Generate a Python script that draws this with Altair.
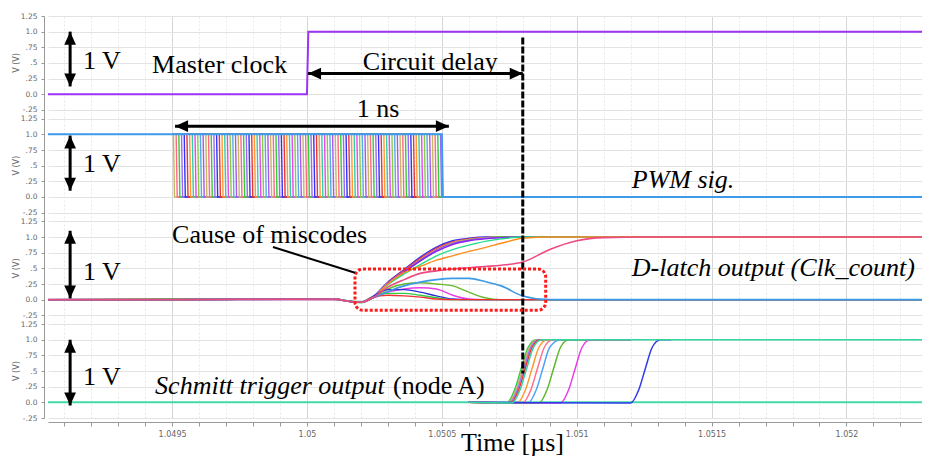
import altair as alt
import pandas as pd

# ---------------- axes / layout values ----------------
X_DOMAIN = [1.04904, 1.05228]
Y_DOMAIN = [-0.25, 6.17]
X_MAJOR = [1.0495, 1.05, 1.0505, 1.051, 1.0515, 1.052]
X_TICKS = [round(1.0491 + 0.0001 * i, 4) for i in range(32)]
Y_LEVELS = [-0.25, 0.0, 0.25, 0.5, 0.75, 1.0, 1.25]
Y_LABELS = ["-.25", "0.0", ".25", ".5", ".75", "1.0", "1.25"]
PANELS = ["clk", "pwm", "dl", "st"]
PITCH = 1.64
PANEL_OFFSET = {"clk": 3 * PITCH, "pwm": 2 * PITCH, "dl": PITCH, "st": 0.0}

PALETTE = ["#C8B560", "#FF6688", "#33CC33", "#9966FF", "#3333EE", "#EE3333",
           "#FF9933", "#33CCAA", "#EE44EE", "#88CC44", "#55A8F0", "#AA55EE"]

# ---------------- Master clock ----------------
CLK_T = [1.04904, 1.05, 1.050005, 1.05228]
CLK_V = [0, 0, 1, 1]

# ---------------- PWM signal ----------------
PWM_DROP_PS = [5, 15, 25, 35, 45, 55, 65, 75, 85, 95,
               105, 115, 125, 135, 145, 155, 165, 175, 185, 195,
               205, 215, 225, 235, 245, 255, 265, 275, 285, 295,
               305, 315, 325, 335, 345, 355, 365, 375, 385, 395,
               405, 415, 425, 435, 445, 455, 465, 475, 485, 495,
               505, 515, 525, 535, 545, 555, 565, 575, 585, 595,
               605, 615, 625, 635, 645, 655, 665, 675, 685, 695,
               705, 715, 725, 735, 745, 755, 765, 775, 785, 795,
               805, 815, 825, 835, 845, 855, 865, 875, 885, 895,
               905, 915, 925, 935, 945, 955, 965, 975, 985, 995]
PWM_START = 1.0495
PWM_END = 1.0505
PWM_FALL = 0.000004
PWM_MAIN_T = [1.04904, 1.0505, 1.050504, 1.05228]
PWM_MAIN_V = [1, 1, 0, 0]

# ---------------- D-latch output ----------------
DL_T = [1.04904, 1.0495, 1.0501, 1.05016, 1.0502, 1.05024, 1.0503, 1.05036,
        1.05042, 1.05048, 1.05054, 1.0506, 1.05066, 1.05072, 1.0508, 1.0509,
        1.051, 1.0511, 1.05125, 1.0514, 1.05228]
DL_TRACES = {
    "fast1":  [0, 0, 0.01, -0.03, -0.04, 0.03, 0.28, 0.48, 0.68, 0.84, 0.94, 0.98, 1.0, 1.0, 1.0, 1.0, 1.0, 1.0, 1.0, 1.0, 1.0],
    "fast2":  [0, 0.01, 0.0, -0.03, -0.04, 0.02, 0.27, 0.47, 0.66, 0.82, 0.92, 0.97, 0.99, 1.0, 1.0, 1.0, 1.0, 1.0, 1.0, 1.0, 1.0],
    "fast3":  [0, 0.0, 0.01, -0.02, -0.04, 0.02, 0.26, 0.45, 0.64, 0.80, 0.91, 0.96, 0.99, 1.0, 1.0, 1.0, 1.0, 1.0, 1.0, 1.0, 1.0],
    "fast4":  [0, 0.01, 0.01, -0.03, -0.05, 0.02, 0.25, 0.44, 0.62, 0.78, 0.89, 0.95, 0.98, 1.0, 1.0, 1.0, 1.0, 1.0, 1.0, 1.0, 1.0],
    "fast5":  [0, 0.0, 0.0, -0.03, -0.04, 0.02, 0.26, 0.45, 0.63, 0.79, 0.90, 0.95, 0.98, 0.99, 1.0, 1.0, 1.0, 1.0, 1.0, 1.0, 1.0],
    "purple": [0, 0.0, 0.01, -0.03, -0.04, 0.02, 0.25, 0.44, 0.62, 0.77, 0.88, 0.94, 0.97, 0.99, 1.0, 1.0, 1.0, 1.0, 1.0, 1.0, 1.0],
    "teal":   [0, 0.0, 0.01, -0.02, -0.04, 0.02, 0.24, 0.41, 0.56, 0.70, 0.80, 0.87, 0.93, 0.97, 1.0, 1.0, 1.0, 1.0, 1.0, 1.0, 1.0],
    "orange": [0, 0.0, 0.01, -0.03, -0.04, 0.02, 0.25, 0.43, 0.53, 0.63, 0.70, 0.77, 0.83, 0.90, 0.98, 1.0, 1.0, 1.0, 1.0, 1.0, 1.0],
    "ygreen": [0, 0.0, 0.01, -0.03, -0.04, 0.02, 0.17, 0.25, 0.27, 0.25, 0.22, 0.12, 0.03, 0.0, 0.0, 0.0, 0.0, 0.0, 0.0, 0.0, 0.0],
    "magenta":[0, 0.0, 0.01, -0.03, -0.04, 0.02, 0.12, 0.17, 0.19, 0.17, 0.07, 0.01, 0.0, 0.0, 0.0, 0.0, 0.0, 0.0, 0.0, 0.0, 0.0],
    "dblue":  [0, 0.0, 0.01, -0.03, -0.04, 0.04, 0.16, 0.16, 0.12, 0.06, 0.01, 0.0, 0.0, 0.0, 0.0, 0.0, 0.0, 0.0, 0.0, 0.0, 0.0],
    "green2": [0, 0.0, 0.01, -0.03, -0.04, 0.03, 0.10, 0.10, 0.07, 0.03, 0.0, 0.0, 0.0, 0.0, 0.0, 0.0, 0.0, 0.0, 0.0, 0.0, 0.0],
    "red2":   [0, 0.0, 0.01, -0.03, -0.04, 0.03, 0.07, 0.06, 0.04, 0.01, 0.0, 0.0, 0.0, 0.0, 0.0, 0.0, 0.0, 0.0, 0.0, 0.0, 0.0],
}
DL_BLUE = [0, 0.0, 0.01, -0.03, -0.04, 0.02, 0.13, 0.22, 0.28, 0.32, 0.34, 0.34, 0.29, 0.22, 0.06, 0.0, 0.0, 0.0, 0.0, 0.0, 0.0]
DL_PINK = [0, 0.0, 0.01, -0.03, -0.04, 0.02, 0.20, 0.32, 0.42, 0.46, 0.49, 0.51, 0.53, 0.55, 0.60, 0.80, 0.94, 0.99, 1.0, 1.0, 1.0]
DL_COLORS = {"fast1": "#3333EE", "fast2": "#EE3333", "fast3": "#C8B560", "fast4": "#33CC33",
             "fast5": "#AA55EE", "purple": "#8822EE", "teal": "#22DD88", "orange": "#FF8C1A",
             "ygreen": "#6AB82E", "magenta": "#E83EE8", "dblue": "#2F2FD8", "green2": "#2ECC40",
             "red2": "#F03030"}

# ---------------- Schmitt trigger output ----------------
ST_V = [0, -0.01, 0.2, 0.55, 0.88, 1.0, 1.0]
ST_TRACES = {
    "green":   [1.0506, 1.05074, 1.05077, 1.050795, 1.05082, 1.05085, 1.0512],
    "khaki":   [1.0506, 1.050745, 1.050775, 1.0508, 1.050825, 1.050855, 1.0511],
    "purple":  [1.0506, 1.05075, 1.05078, 1.050805, 1.05083, 1.05086, 1.0512],
    "red":     [1.0506, 1.050755, 1.050785, 1.05081, 1.050835, 1.050865, 1.0511],
    "orange":  [1.0506, 1.05078, 1.05081, 1.050835, 1.05086, 1.05089, 1.0512],
    "pink":    [1.0506, 1.0508, 1.05083, 1.050855, 1.05088, 1.05091, 1.0512],
    "lblue":   [1.0506, 1.05082, 1.05085, 1.050875, 1.0509, 1.05094, 1.0512],
    "green2":  [1.0506, 1.05086, 1.05089, 1.050915, 1.05094, 1.05097, 1.0512],
    "magenta": [1.0506, 1.05094, 1.05097, 1.050995, 1.05102, 1.05105, 1.0512],
    "blue":    [1.0506, 1.0512, 1.05123, 1.051255, 1.05128, 1.05131, 1.05135],
    "teal":    [1.0506, 1.05076, 1.05079, 1.050815, 1.05084, 1.05087, 1.05228],
}
ST_COLORS = {"green": "#2ECC40", "khaki": "#C9B26B", "purple": "#A070FF", "red": "#F03030",
             "orange": "#FF9A2E", "pink": "#FF6F91", "lblue": "#4FA3F7", "green2": "#5DB82E",
             "magenta": "#E83EE8", "blue": "#2F3BE8", "teal": "#33D6A0"}
ST_BASE_T = [1.04904, 1.05228]
ST_BASE_V = [0, 0]

# ---------------- annotations ----------------
TXT_NORMAL = ["1 V", "1 V", "1 V", "1 V", "Master clock", "Circuit delay", "1 ns",
              "Cause of miscodes", "(node A)"]
TXT_NORMAL_T = [1.04917, 1.04917, 1.04917, 1.04917, 1.049426, 1.050207, 1.050185, 1.0495, 1.050319]
TXT_NORMAL_P = ["clk", "pwm", "dl", "st", "clk", "clk", "pwm", "dl", "st"]
TXT_NORMAL_V = [0.41, 0.40, 0.32, 0.27, 0.34, 0.38, 1.27, 0.91, 0.13]
TXT_ITALIC = ["PWM sig.", "D-latch output (Clk_count)", "Schmitt trigger output"]
TXT_ITALIC_T = [1.051204, 1.051204, 1.049437]
TXT_ITALIC_P = ["pwm", "dl", "st"]
TXT_ITALIC_V = [0.14, 0.38, 0.13]

VARROW_T = 1.049122
VARROW_TOP = [1.0, 0.98, 1.1, 1.0]
VARROW_BOTTOM = [0.125, 0.1, 0.02, -0.05]
HARROW_P = ["clk", "pwm"]
HARROW_V = [0.33, 1.13]
HARROW_T1 = [1.050004, 1.049511]
HARROW_T2 = [1.0508, 1.050526]

DELAY_T = 1.0508
DELAY_TOP = ("clk", 0.906)
DELAY_BOTTOM = ("st", 0.46)

LEADER = [(1.049874, 0.84), (1.050178, 0.43)]
BOX_T = [1.050178, 1.050885]
BOX_V = [0.49, -0.17]

# ---------------- build tables ----------------
def rows_for(panel, trace, color, ts, vs):
    off = PANEL_OFFSET[panel]
    return [dict(trace=trace, color=color, t=t, y=v + off) for t, v in zip(ts, vs)]

clk_df = pd.DataFrame(rows_for("clk", "clk", "#9B35F2", CLK_T, CLK_V))

pwm_rows = []
for i, ps in enumerate(PWM_DROP_PS):
    td = PWM_START + ps * 1e-6
    pwm_rows += rows_for("pwm", f"p{i:03d}", PALETTE[i % len(PALETTE)],
                         [PWM_START, td, td + PWM_FALL, PWM_END], [1, 1, 0, 0])
pwm_df = pd.DataFrame(pwm_rows)
pwm_main_df = pd.DataFrame(rows_for("pwm", "main", "#3D9BE9", PWM_MAIN_T, PWM_MAIN_V))

dl_rows = []
for name, vals in DL_TRACES.items():
    dl_rows += rows_for("dl", name, DL_COLORS[name], DL_T, vals)
dl_df = pd.DataFrame(dl_rows)
dl_blue_df = pd.DataFrame(rows_for("dl", "blue", "#3A9AE8", DL_T, DL_BLUE))
dl_pink_df = pd.DataFrame(rows_for("dl", "pink", "#EC4A84", DL_T, DL_PINK))

st_rows = []
for name, ts in ST_TRACES.items():
    st_rows += rows_for("st", name, ST_COLORS[name], ts, ST_V)
st_df = pd.DataFrame(st_rows)
st_base_df = pd.DataFrame(rows_for("st", "base", "#44D8A8", ST_BASE_T, ST_BASE_V))

txt_n_df = pd.DataFrame(dict(text=TXT_NORMAL, t=TXT_NORMAL_T,
                             y=[v + PANEL_OFFSET[p] for p, v in zip(TXT_NORMAL_P, TXT_NORMAL_V)]))
txt_i_df = pd.DataFrame(dict(text=TXT_ITALIC, t=TXT_ITALIC_T,
                             y=[v + PANEL_OFFSET[p] for p, v in zip(TXT_ITALIC_P, TXT_ITALIC_V)]))
ytitle_df = pd.DataFrame(dict(text=["V (V)"] * 4, y=[0.5 + PANEL_OFFSET[p] for p in PANELS]))

UP = "M0,0L0.9,2L-0.9,2Z"
DOWN = "M0,0L0.9,-2L-0.9,-2Z"
LEFT = "M0,0L2,0.9L2,-0.9Z"
RIGHT = "M0,0L-2,0.9L-2,-0.9Z"

shaft_rows, head_rows = [], []
for p, top, bot in zip(PANELS, VARROW_TOP, VARROW_BOTTOM):
    off = PANEL_OFFSET[p]
    shaft_rows.append(dict(t=VARROW_T, t2=VARROW_T, y=top + off, y2=bot + off))
    head_rows.append(dict(t=VARROW_T, y=top + off, shape=UP))
    head_rows.append(dict(t=VARROW_T, y=bot + off, shape=DOWN))
for p, v, t1, t2 in zip(HARROW_P, HARROW_V, HARROW_T1, HARROW_T2):
    off = PANEL_OFFSET[p]
    shaft_rows.append(dict(t=t1, t2=t2, y=v + off, y2=v + off))
    head_rows.append(dict(t=t1, y=v + off, shape=LEFT))
    head_rows.append(dict(t=t2, y=v + off, shape=RIGHT))
shaft_df = pd.DataFrame(shaft_rows)
head_df = pd.DataFrame(head_rows)

delay_df = pd.DataFrame([dict(t=DELAY_T, y=DELAY_TOP[1] + PANEL_OFFSET[DELAY_TOP[0]],
                              y2=DELAY_BOTTOM[1] + PANEL_OFFSET[DELAY_BOTTOM[0]])])
leader_df = pd.DataFrame([dict(t=LEADER[0][0], t2=LEADER[1][0],
                               y=LEADER[0][1] + PANEL_OFFSET["dl"], y2=LEADER[1][1] + PANEL_OFFSET["dl"])])
box_df = pd.DataFrame([dict(t=BOX_T[0], t2=BOX_T[1], y=BOX_V[0] + PANEL_OFFSET["dl"],
                            y2=BOX_V[1] + PANEL_OFFSET["dl"])])

# ---------------- encodings ----------------
major_test = "abs(round(datum.value*10000) % 5) == 0"
x_axis = alt.Axis(
    values=X_TICKS,
    labelExpr=f"{major_test} ? format(datum.value, '.4~f') : ''",
    tickSize=4, offset=4, labelFontSize=8, labelColor="#666666", labelFont="DejaVu Sans",
    labelPadding=4, labelOverlap=False, labelFlush=False,
    domainColor="#999999", tickColor="#999999",
    gridColor={"condition": {"test": major_test, "value": "#d6d6d6"}, "value": "#e9e9e9"},
    gridDash={"condition": {"test": major_test, "value": []}, "value": [2, 2]},
    title="Time [µs]", titleFont="Liberation Serif", titleFontSize=26, titleFontWeight="normal",
    titleColor="black", titleX=464, titleY=28, titleAlign="center", titleBaseline="alphabetic",
)
y_ticks = [round(v + PANEL_OFFSET[p], 3) for p in PANELS for v in Y_LEVELS]
lab_arr = "[" + ",".join(f"'{s}'" for s in Y_LABELS) + "]"
y_axis = alt.Axis(
    values=y_ticks,
    labelExpr=f"{lab_arr}[round((datum.value - {PITCH}*floor((datum.value+0.3)/{PITCH}))*4)+1]",
    title=None, offset=4, tickSize=3, labelFontSize=7.5, labelColor="#666666",
    labelFont="DejaVu Sans", labelPadding=4, labelOverlap=False, labelBound=False,
    gridColor="#e3e3e3", domainColor="#999999", tickColor="#999999",
)
X = alt.X("t:Q", scale=alt.Scale(domain=X_DOMAIN, nice=False, zero=False), axis=x_axis)
Y = alt.Y("y:Q", scale=alt.Scale(domain=Y_DOMAIN, nice=False, zero=False), axis=y_axis)


def trace_layer(df, width=1.5, interp="linear"):
    return alt.Chart(df).mark_line(strokeWidth=width, interpolate=interp).encode(
        x=X, y=Y, color=alt.Color("color:N", scale=None, legend=None), detail="trace:N")


layers = [
    trace_layer(clk_df, 2),
    trace_layer(pwm_df, 1.4),
    trace_layer(pwm_main_df, 2),
    trace_layer(dl_df, 1.4, "monotone"),
    trace_layer(dl_blue_df, 1.6, "monotone"),
    trace_layer(dl_pink_df, 1.6, "monotone"),
    trace_layer(st_base_df, 2),
    trace_layer(st_df, 1.5, "monotone"),
    alt.Chart(delay_df).mark_rule(color="black", strokeWidth=3, strokeDash=[7, 2]).encode(x=X, y=Y, y2="y2:Q"),
    alt.Chart(box_df).mark_rect(fillOpacity=0, stroke="#FF1A1A", strokeWidth=3, strokeDash=[3, 2],
                                cornerRadius=8).encode(x=X, x2="t2:Q", y=Y, y2="y2:Q"),
    alt.Chart(leader_df).mark_rule(color="black", strokeWidth=2).encode(x=X, x2="t2:Q", y=Y, y2="y2:Q"),
    alt.Chart(shaft_df).mark_rule(color="black", strokeWidth=3).encode(x=X, x2="t2:Q", y=Y, y2="y2:Q"),
    alt.Chart(head_df).mark_point(filled=True, color="black", opacity=1, size=169, strokeWidth=0).encode(
        x=X, y=Y, shape=alt.Shape("shape:N", scale=None, legend=None)),
    alt.Chart(txt_n_df).mark_text(font="Liberation Serif", fontSize=26, align="left",
                                  baseline="alphabetic", color="black").encode(x=X, y=Y, text="text:N"),
    alt.Chart(txt_i_df).mark_text(font="Liberation Serif", fontSize=26, fontStyle="italic", align="left",
                                  baseline="alphabetic", color="black").encode(x=X, y=Y, text="text:N"),
    alt.Chart(ytitle_df).mark_text(font="DejaVu Sans", fontSize=8, angle=270, align="center",
                                   baseline="middle", color="#666666").encode(
        x=alt.value(-31), y=Y, text="text:N"),
]

chart = alt.layer(*layers).properties(
    width=874, height=402,
    padding={"left": 40, "top": 8, "right": 0, "bottom": 39},
    autosize=alt.AutoSizeParams(type="none"),
    background="white",
).configure_view(stroke=None)

chart.save("out.html", embed_options={"renderer": "svg", "actions": False})
